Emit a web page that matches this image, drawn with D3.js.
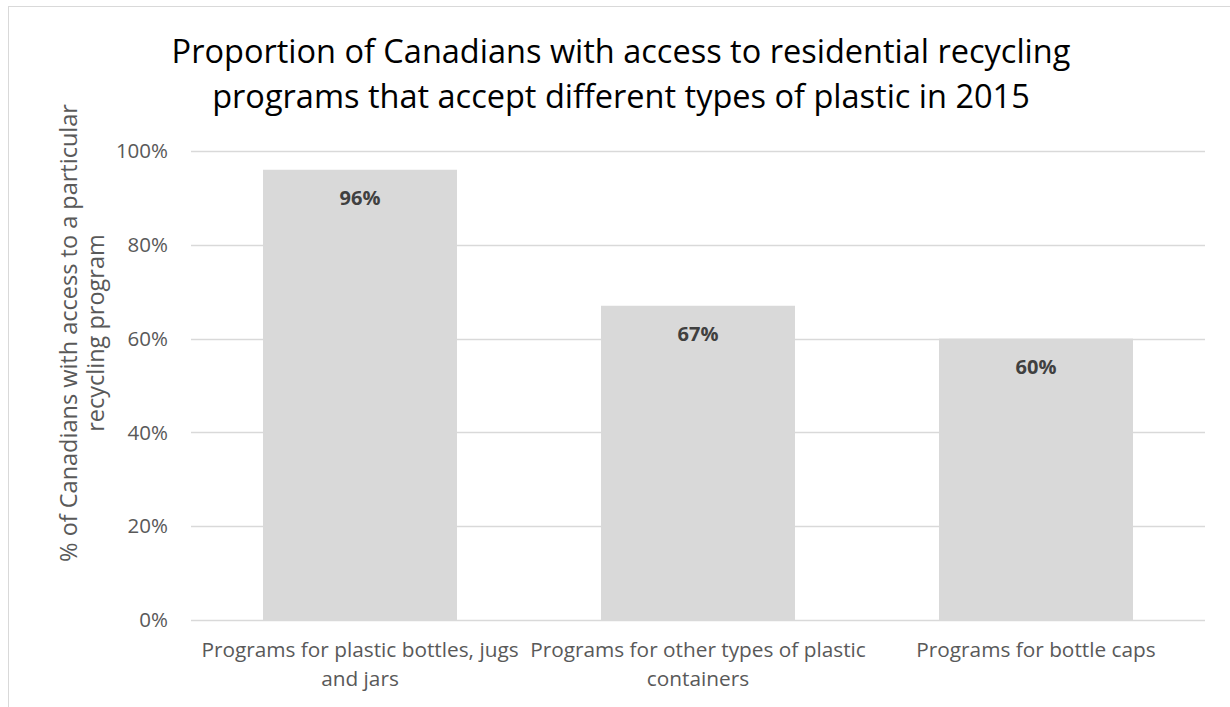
<!DOCTYPE html>
<html>
<head>
<meta charset="utf-8">
<script src="https://cdn.jsdelivr.net/npm/d3@7"></script>
<style>
  body { margin: 0; background: #fff; }
  svg { font-family: "Open Sans", "Noto Sans", sans-serif; }
</style>
</head>
<body>
<div id="chart"></div>
<script>
var categories = [
  "Programs for plastic bottles, jugs and jars",
  "Programs for other types of plastic containers",
  "Programs for bottle caps"
];
var values = [0.96, 0.67, 0.60];
var yTicks = [0, 0.2, 0.4, 0.6, 0.8, 1.0];
var titleLines = [
  "Proportion of Canadians with access to residential recycling",
  "programs that accept different types of plastic in 2015"
];
var yTitleLines = ["% of Canadians with access to a particular", "recycling program"];

var width = 1230, height = 707;
var margin = {top: 151, right: 25, bottom: 87, left: 191};

var svg = d3.select("#chart").append("svg")
    .attr("width", width)
    .attr("height", height);

// chart frame (runs off the window on right/bottom)
svg.append("rect")
  .attr("x", 8.5).attr("y", 6.5)
  .attr("width", 1240).attr("height", 720)
  .attr("fill", "none")
  .attr("stroke", "#d9d9d9");

var x = d3.scaleBand()
    .domain(categories)
    .range([margin.left, width - margin.right])
    .paddingInner(144 / 338)
    .paddingOuter(72 / 338);

var y = d3.scaleLinear()
    .domain([0, 1])
    .range([height - margin.bottom, margin.top]);

// gridlines
svg.append("g").selectAll("line")
  .data(yTicks)
  .enter().append("line")
  .attr("x1", margin.left).attr("x2", width - margin.right)
  .attr("y1", function(d) { return Math.round(y(d)) + 0.5; })
  .attr("y2", function(d) { return Math.round(y(d)) + 0.5; })
  .attr("stroke", "#d9d9d9")
  .attr("stroke-width", 1.5);

// y tick labels
svg.append("g").selectAll("text")
  .data(yTicks)
  .enter().append("text")
  .attr("x", 168)
  .attr("y", function(d) { return y(d); })
  .attr("dy", "0.35em")
  .attr("text-anchor", "end")
  .attr("fill", "#595959")
  .style("font-size", "20.5px")
  .text(d3.format(".0%"));

// bars
svg.append("g").selectAll("rect")
  .data(values)
  .enter().append("rect")
  .attr("x", function(d, i) { return x(categories[i]); })
  .attr("width", x.bandwidth())
  .attr("y", function(d) { return y(d); })
  .attr("height", function(d) { return y(0) - y(d); })
  .attr("fill", "#d9d9d9");

// data labels
svg.append("g").selectAll("text")
  .data(values)
  .enter().append("text")
  .attr("x", function(d, i) { return x(categories[i]) + x.bandwidth() / 2; })
  .attr("y", function(d) { return y(d) + 35; })
  .attr("text-anchor", "middle")
  .attr("fill", "#404040")
  .style("font-size", "20px")
  .style("font-weight", "bold")
  .text(d3.format(".0%"));

// category labels, wrapped to two lines
var catLines = [
  ["Programs for plastic bottles, jugs", "and jars"],
  ["Programs for other types of plastic", "containers"],
  ["Programs for bottle caps"]
];
var catG = svg.append("g").selectAll("text")
  .data(categories)
  .enter().append("text")
  .attr("text-anchor", "middle")
  .attr("fill", "#595959")
  .style("font-size", "20.8px")
  .attr("x", function(d) { return x(d) + x.bandwidth() / 2; })
  .attr("y", 657);
catG.each(function(d, i) {
  var t = d3.select(this);
  catLines[i].forEach(function(line, j) {
    t.append("tspan")
      .attr("x", x(d) + x.bandwidth() / 2)
      .attr("dy", j === 0 ? 0 : 29)
      .text(line);
  });
});

// title
var title = svg.append("text")
  .attr("text-anchor", "middle")
  .attr("fill", "#000")
  .style("font-size", "32.5px");
titleLines.forEach(function(line, i) {
  title.append("tspan")
    .attr("x", 621)
    .attr("y", 63 + i * 45)
    .text(line);
});

// y axis title
var yTitle = svg.append("text")
  .attr("transform", "translate(0," + 333 + ") rotate(-90)")
  .attr("text-anchor", "middle")
  .attr("fill", "#595959")
  .style("font-size", "23.5px");
yTitleLines.forEach(function(line, i) {
  yTitle.append("tspan")
    .attr("x", 0)
    .attr("y", 77 + i * 27)
    .text(line);
});
</script>
</body>
</html>
